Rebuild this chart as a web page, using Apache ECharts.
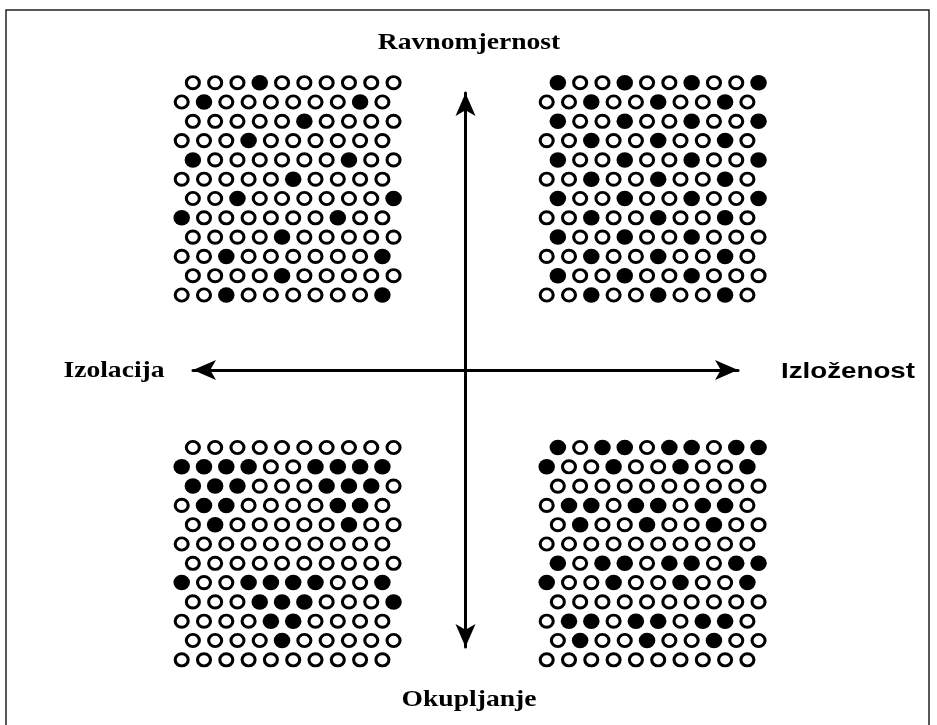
<!DOCTYPE html>
<html>
<head>
<meta charset="utf-8">
<script src="https://cdn.jsdelivr.net/npm/echarts@6/dist/echarts.min.js"></script>
<style>html,body{margin:0;padding:0;background:#fff}#c{width:937px;height:725px}</style>
</head>
<body>
<div id="c"></div>
<script>
// Labels
const labelTop = 'Ravnomjernost';
const labelBottom = 'Okupljanje';
const labelLeft = 'Izolacija';
const labelRight = 'Izloženost';

// Grid size: 12 rows x 10 circles per row (hexagonal packing)
const ROWS = 12;
const COLS = 10;

// Filled (black) circle column indices, per row, for each panel
const filledTopLeft = [[3],[1,8],[5],[3],[0,7],[5],[2,9],[0,7],[4],[2,9],[4],[2,9]];
const filledTopRight = [[0,3,6,9],[2,5,8],[0,3,6,9],[2,5,8],[0,3,6,9],[2,5,8],[0,3,6,9],[2,5,8],[0,3,6],[2,5,8],[0,3,6],[2,5,8]];
const filledBottomLeft = [[],[0,1,2,3,6,7,8,9],[0,1,2,6,7,8],[1,2,7,8],[1,7],[],[],[0,3,4,5,6,9],[3,4,5,9],[4,5],[4],[]];
const filledBottomRight = [[0,2,3,5,6,8,9],[0,3,6,9],[],[1,2,4,5,7,8],[1,4,7],[],[0,2,3,5,6,8,9],[0,3,6,9],[],[1,2,4,5,7,8],[1,4,7],[]];

const panels = [filledTopLeft, filledTopRight, filledBottomLeft, filledBottomRight];

const chart = echarts.init(document.getElementById('c'), null, {renderer: 'canvas'});

const DX = 22.3, DY = 19.3;
const panelOrigins = [[181.7, 82.7], [546.7, 82.7], [181.7, 447.5], [546.7, 447.5]];

const grids = [], xAxes = [], yAxes = [], series = [];
panelOrigins.forEach((o, i) => {
  grids.push({left: o[0] - 0.5 * DX, top: o[1] - 0.5 * DY, width: 10.5 * DX, height: ROWS * DY});
  xAxes.push({gridIndex: i, type: 'value', min: -0.5, max: 10, show: false});
  yAxes.push({gridIndex: i, type: 'value', min: -0.5, max: 11.5, inverse: true, show: false});
  const open = [], filled = [];
  for (let r = 0; r < ROWS; r++) {
    for (let c = 0; c < COLS; c++) {
      const pt = [c + (r % 2 === 0 ? 0.5 : 0), r];
      if (panels[i][r].indexOf(c) >= 0) filled.push(pt); else open.push(pt);
    }
  }
  series.push({type: 'scatter', xAxisIndex: i, yAxisIndex: i, data: open, symbol: 'circle',
    symbolSize: [13, 12.2], itemStyle: {color: '#fff', borderColor: '#000', borderWidth: 3, opacity: 1}, silent: true});
  series.push({type: 'scatter', xAxisIndex: i, yAxisIndex: i, data: filled, symbol: 'circle',
    symbolSize: [16.5, 15.5], itemStyle: {color: '#000', opacity: 1}, silent: true});
});

// Arrow cross
grids.push({left: 193, right: 199, top: 93, bottom: 78});
const arrowAxis = {show: true, onZero: true, symbol: ['arrow', 'arrow'], symbolSize: [15, 23],
  lineStyle: {color: '#000', width: 3}};
xAxes.push({gridIndex: 4, type: 'value', min: -1, max: 1, axisLine: arrowAxis,
  axisTick: {show: false}, axisLabel: {show: false}, splitLine: {show: false}});
yAxes.push({gridIndex: 4, type: 'value', min: -1, max: 1, axisLine: arrowAxis,
  axisTick: {show: false}, axisLabel: {show: false}, splitLine: {show: false}});

function txt(text, x, y, font, sx) {
  return {type: 'text', x: x, y: y, scaleX: sx, silent: true,
    style: {text: text, x: 0, y: 0, align: 'center', verticalAlign: 'middle',
      font: font, fill: '#000'}};
}

chart.setOption({
  animation: false,
  backgroundColor: '#fff',
  grid: grids,
  xAxis: xAxes,
  yAxis: yAxes,
  series: series,
  graphic: [
    {type: 'rect', silent: true, shape: {x: 6, y: 10, width: 923, height: 740},
      style: {fill: 'none', stroke: '#222', lineWidth: 1.5}},
    txt(labelTop, 469, 43, 'bold 23px Liberation Serif', 1.2),
    txt(labelBottom, 469, 700, 'bold 23px Liberation Serif', 1.2),
    txt(labelLeft, 114, 371, 'bold 23px Liberation Serif', 1.2),
    txt(labelRight, 848, 372, 'bold 22px Liberation Sans', 1.26)
  ]
});
</script>
</body>
</html>
